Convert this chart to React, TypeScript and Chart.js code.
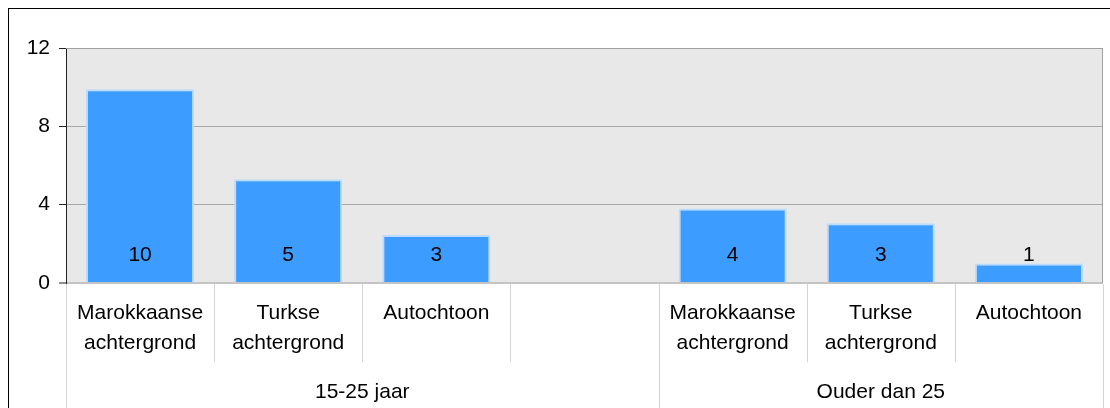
import React, { useEffect, useRef } from 'react';
import { Chart, registerables } from 'chart.js';

Chart.register(...registerables);

const categories: (string | string[])[] = [
  ['Marokkaanse', 'achtergrond'],
  ['Turkse', 'achtergrond'],
  ['Autochtoon'],
  '',
  ['Marokkaanse', 'achtergrond'],
  ['Turkse', 'achtergrond'],
  ['Autochtoon'],
];
const barValues: (number | null)[] = [9.9, 5.3, 2.45, null, 3.8, 3.05, 1.0];
const barLabels = ['10', '5', '3', '', '4', '3', '1'];
const groupLabels = ['15-25 jaar', 'Ouder dan 25'];
const groupSpans = [4, 3];
const yMin = 0;
const yMax = 12;
const yStep = 4;

const FONT = '"Liberation Sans", Arial, sans-serif';
const FS = 21;
const CANVAS_W = 1101;
const CANVAS_H = 399;

const decor = {
  id: 'decor',
  beforeDraw(chart: any) {
    const { ctx, chartArea: a } = chart;
    ctx.save();
    ctx.fillStyle = '#e8e8e8';
    ctx.fillRect(a.left, a.top, a.right - a.left, a.bottom - a.top);
    ctx.restore();
  },
  afterDatasetsDraw(chart: any) {
    const { ctx } = chart;
    const meta = chart.getDatasetMeta(0);
    const y0 = chart.scales.y.getPixelForValue(0);
    ctx.save();
    ctx.font = `${FS}px ${FONT}`;
    ctx.fillStyle = '#000';
    ctx.textAlign = 'center';
    ctx.textBaseline = 'middle';
    meta.data.forEach((el: any, i: number) => {
      if (barLabels[i]) ctx.fillText(barLabels[i], el.x, y0 - 28);
    });
    ctx.restore();
  },
  afterDraw(chart: any) {
    const { ctx, chartArea: a } = chart;
    const xs = chart.scales.x;
    const n = categories.length;
    const half = (xs.getPixelForValue(1) - xs.getPixelForValue(0)) / 2;
    const edge = (k: number) => (k === n ? xs.getPixelForValue(n - 1) + half : xs.getPixelForValue(k) - half);
    ctx.save();
    // plot border top/right
    ctx.strokeStyle = '#a0a0a0';
    ctx.lineWidth = 1;
    ctx.beginPath();
    ctx.moveTo(a.left, a.top + 0.5);
    ctx.lineTo(a.right, a.top + 0.5);
    ctx.moveTo(a.right - 0.5, a.top);
    ctx.lineTo(a.right - 0.5, a.bottom);
    ctx.stroke();
    // separators
    const groupEdges = new Set<number>();
    let acc = 0;
    groupEdges.add(0);
    groupSpans.forEach((s) => {
      acc += s;
      groupEdges.add(acc);
    });
    ctx.strokeStyle = '#d4d4d4';
    ctx.beginPath();
    for (let k = 0; k <= n; k++) {
      const x = Math.round(edge(k)) + 0.5;
      const yEnd = groupEdges.has(k) ? CANVAS_H : a.bottom + 79;
      ctx.moveTo(x, a.bottom + 1);
      ctx.lineTo(x, yEnd);
    }
    ctx.stroke();
    // group labels
    ctx.font = `${FS}px ${FONT}`;
    ctx.fillStyle = '#000';
    ctx.textAlign = 'center';
    ctx.textBaseline = 'middle';
    let start = 0;
    groupLabels.forEach((g, i) => {
      const end = start + groupSpans[i];
      const cx = (edge(start) + edge(end)) / 2;
      ctx.fillText(g, cx, a.bottom + 109);
      start = end;
    });
    ctx.restore();
  },
};

export default function App() {
  const ref = useRef<HTMLCanvasElement>(null);
  useEffect(() => {
    if (!ref.current) return;
    const chart = new Chart(ref.current, {
      type: 'bar',
      data: {
        labels: categories as any,
        datasets: [
          {
            data: barValues as any,
            backgroundColor: '#3d9cff',
            borderColor: '#bcdcff',
            borderWidth: 2,
            barPercentage: 0.73,
            categoryPercentage: 1,
          },
        ],
      },
      options: {
        animation: false,
        responsive: false,
        maintainAspectRatio: false,
        layout: { padding: { left: 0, top: 39, right: 7, bottom: 0 } },
        plugins: { legend: { display: false }, tooltip: { enabled: false } },
        scales: {
          x: {
            grid: { display: false, drawTicks: false },
            border: { display: false },
            ticks: {
              color: '#000',
              font: { family: FONT, size: FS, lineHeight: 30 / FS },
              padding: 15,
              maxRotation: 0,
              autoSkip: false,
            },
            afterFit: (s: any) => {
              s.height = 125;
            },
          },
          y: {
            min: yMin,
            max: yMax,
            grid: {
              color: (c: any) => (c.tick && c.tick.value === 0 ? '#c4c4c4' : '#a8a8a8'),
              lineWidth: (c: any) => (c.tick && c.tick.value === 0 ? 2 : 1),
              tickColor: '#222',
              tickWidth: 1,
              tickLength: 7,
            },
            border: { display: true, color: '#222', width: 1 },
            ticks: {
              stepSize: yStep,
              color: '#000',
              font: { family: FONT, size: FS },
              padding: 9,
            },
            afterFit: (s: any) => {
              s.width = 57;
            },
          },
        },
      },
      plugins: [decor],
    });
    return () => chart.destroy();
  }, []);
  return (
    <div
      style={{
        position: 'fixed',
        left: 8,
        top: 8,
        width: CANVAS_W + 1,
        height: CANVAS_H + 1,
        borderTop: '1px solid #000',
        borderLeft: '1px solid #000',
        boxSizing: 'border-box',
        background: '#fff',
      }}
    >
      <canvas
        ref={ref}
        width={CANVAS_W}
        height={CANVAS_H}
        style={{ display: 'block', width: CANVAS_W, height: CANVAS_H }}
      />
    </div>
  );
}
